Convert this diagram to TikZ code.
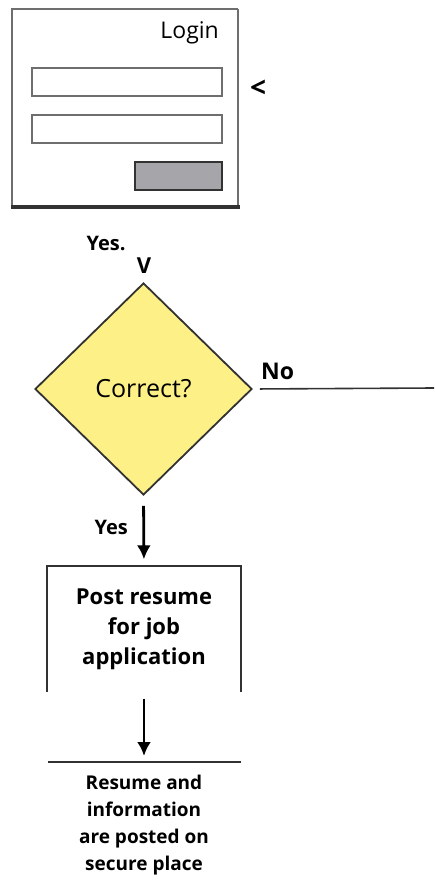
\documentclass[tikz,border=0pt]{standalone}
\usepackage{fontspec}
\setmainfont{Open Sans}
\usepackage{tikz}
\usetikzlibrary{arrows.meta,calc,positioning,shapes.geometric}
\definecolor{wfgray}{RGB}{110,110,110}
\definecolor{wfdark}{RGB}{50,50,50}
\definecolor{wfbtn}{RGB}{165,165,170}
\definecolor{dmyellow}{RGB}{253,240,135}

\tikzset{
  field/.style={draw=wfgray,line width=1.6pt,fill=white},
  flowarrow/.style={-{Latex[length=14pt,width=14pt]},line width=2.8pt,black},
  flowlabel/.style={font=\bfseries\fontsize{20}{22}\selectfont,inner sep=0pt},
  stepbox/.style={minimum width=194pt,minimum height=125pt,inner sep=0pt,align=center,
    font=\bfseries\fontsize{22}{30}\selectfont},
}

\begin{document}
\begin{tikzpicture}[x=1pt,y=-1pt,>=Latex]
\useasboundingbox (0,0) rectangle (434,885);
% login wireframe
\draw[wfgray,line width=1.2pt] (12,208) -- (12,9) -- (238,9);
\draw[wfgray,line width=2.4pt] (238,9) -- (238,208);
\draw[wfdark,line width=3.5pt] (11,207) -- (240,207);
\node[anchor=east,inner sep=0pt,font=\fontsize{23}{25}\selectfont] (login) at (219,33) {Login};
\draw[field] (32,68) rectangle (222,96);
\draw[field] (32,115) rectangle (222,143);
\draw[draw=wfdark,line width=1.6pt,fill=wfbtn] (135,162) rectangle (222,190);
\node[font=\bfseries\fontsize{28}{30}\selectfont,inner sep=0pt] (back) at (258,89) {<};

% decision
\node[flowlabel] (yestop) at (106,243) {Yes.};
\node[font=\bfseries\fontsize{22}{24}\selectfont,inner sep=0pt] (vin) at (144,266) {V};
\node[diamond,draw=wfdark,line width=1.8pt,fill=dmyellow,minimum width=217pt,minimum height=212pt,
  inner sep=0pt,font=\fontsize{25}{27}\selectfont] (check) at (143.5,389) {Correct?};
\coordinate (noend) at (434,388);
\draw[wfdark,line width=1.6pt,shorten <=7pt] (check.east) -- (noend);
\node[flowlabel,font=\bfseries\fontsize{23}{25}\selectfont,anchor=base west] (nolbl) at (261,379) {No};

% post step
\node[stepbox] (post) at (144,629) {Post resume\\for job\\application};
\draw[wfdark,line width=2pt] (post.south west) -- (post.north west) -- (post.north east) -- (post.south east);
\draw[flowarrow,shorten <=10pt,shorten >=7pt] (check.south) -- (post.north);
\node[flowlabel,anchor=east] (yesmid) at (128,527) {Yes};

% stored data
\coordinate (storel) at (48,762);
\coordinate (storer) at (241,762);
\coordinate (storetop) at (144,762);
\draw[wfdark,line width=2pt] (storel) -- (storer);
\draw[flowarrow,shorten <=7pt,shorten >=6pt] (post.south) -- (storetop);
\node[anchor=north,align=center,inner sep=0pt,font=\bfseries\fontsize{19}{27}\selectfont] (store)
  at (144,775) {Resume and\\information\\are posted on\\secure place};
\end{tikzpicture}
\end{document}
